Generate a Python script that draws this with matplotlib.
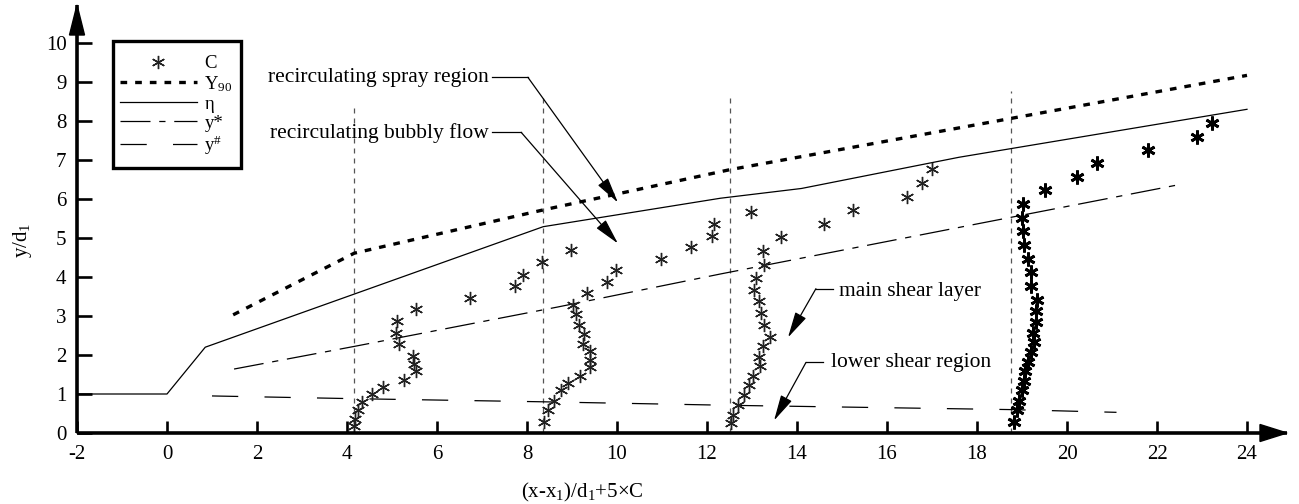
import matplotlib
matplotlib.use("Agg")
import matplotlib.pyplot as plt
from matplotlib.patches import Polygon, Rectangle

plt.rcParams['font.family'] = ['Liberation Serif', 'DejaVu Serif']
plt.rcParams['mathtext.fontset'] = 'custom'
plt.rcParams['mathtext.rm'] = 'Liberation Serif'
plt.rcParams['mathtext.it'] = 'Liberation Serif:italic'

# ---------------- data ----------------
eta_x = [-2, 0, 0.85, 8.36, 12.3, 14.1, 17.6, 24]
eta_y = [1, 1, 2.2, 5.29, 6.02, 6.27, 7.07, 8.3]

y90_x = [1.47, 4.16, 8.36, 12.5, 24]
y90_y = [3.03, 4.61, 5.72, 6.75, 9.17]

ystar_x = [1.49, 4.16, 8.68, 12.31, 17.64, 22.5]
ystar_y = [1.64, 2.22, 3.23, 4.08, 5.28, 6.37]

yhash_x = [1.0, 4.16, 8.36, 12.5, 18.76, 21.1]
yhash_y = [0.95, 0.88, 0.80, 0.71, 0.60, 0.53]

prof_x0 = [4.16, 8.36, 12.5, 18.75]
prof_top = [8.45, 8.6, 8.7, 8.78]

c1_x = [4.16, 4.18, 4.25, 4.33, 4.55, 4.81, 5.26, 5.53, 5.48, 5.46, 5.16, 5.09, 5.11,
        5.53, 6.74, 7.73, 7.90, 8.33, 8.98]
c1_y = [0.17, 0.36, 0.58, 0.79, 0.99, 1.17, 1.37, 1.58, 1.77, 1.98, 2.27, 2.57, 2.88,
        3.18, 3.47, 3.76, 4.06, 4.38, 4.68]

c2_x = [8.37, 8.46, 8.61, 8.76, 8.92, 9.18, 9.41, 9.39, 9.39, 9.24, 9.26, 9.16, 9.09,
        9.02, 9.33, 9.77, 9.98, 10.98, 11.64, 12.10, 12.15, 12.98]
c2_y = [0.29, 0.58, 0.83, 1.09, 1.29, 1.47, 1.69, 1.88, 2.09, 2.29, 2.54, 2.78, 3.04,
        3.29, 3.58, 3.87, 4.17, 4.47, 4.78, 5.06, 5.36, 5.66]

c3_x = [12.53, 12.57, 12.68, 12.82, 12.94, 13.02, 13.18, 13.16, 13.24, 13.39, 13.27,
        13.20, 13.16, 13.04, 13.09, 13.27, 13.24, 13.64, 14.59, 15.24, 16.44, 16.77, 17.00]
c3_y = [0.25, 0.47, 0.73, 0.98, 1.22, 1.47, 1.71, 1.96, 2.22, 2.47, 2.78, 3.07, 3.38,
        3.67, 3.98, 4.32, 4.66, 5.02, 5.36, 5.72, 6.06, 6.41, 6.76]

c4_x = [18.83, 18.88, 18.94, 18.99, 19.05, 19.07, 19.13, 19.19, 19.26, 19.24, 19.31,
        19.30, 19.33, 19.20, 19.19, 19.14, 19.04, 19.03, 18.99, 19.03, 19.51, 20.22,
        20.67, 21.79, 22.88, 23.22]
c4_y = [0.28, 0.58, 0.83, 1.09, 1.33, 1.58, 1.83, 2.07, 2.33, 2.57, 2.84, 3.12, 3.41,
        3.78, 4.12, 4.47, 4.83, 5.17, 5.52, 5.86, 6.22, 6.56, 6.92, 7.26, 7.60, 7.94]

x_ticks = list(range(-2, 25, 2))
y_ticks = list(range(0, 11))

legend_labels = ['C', r'Y$_{\mathrm{90}}$', 'η', 'y*', r'y$^{\#}$']

annotations = [
    # text, text anchor (left / right), text position, leader start, knee, arrow tip
    ('recirculating spray region', 'right', (7.15, 9.12), (7.22, 9.12), (8.02, 9.12), (10.02, 5.91)),
    ('recirculating bubbly flow', 'right', (7.15, 7.70), (7.22, 7.71), (7.87, 7.71), (10.02, 4.86)),
    ('main shear layer', 'left', (14.93, 3.62), (14.80, 3.70), (14.42, 3.70), (13.80, 2.45)),
    ('lower shear region', 'left', (14.76, 1.81), (14.58, 1.81), (14.20, 1.81), (13.49, 0.32)),
]

# ---------------- figure ----------------
W, H = 1299, 504
fig = plt.figure(figsize=(W / 100, H / 100), dpi=100)
ax_l, ax_r, ax_b, ax_t = 77, 1287, 433, 5
ax = fig.add_axes([ax_l / W, (H - ax_b) / H, (ax_r - ax_l) / W, (ax_b - ax_t) / H])
xmin, xmax = -2, -2 + (ax_r - ax_l) / 45.0
ymin, ymax = 0, (ax_b - ax_t) / 39.0
ax.set_xlim(xmin, xmax)
ax.set_ylim(ymin, ymax)

for s in ['top', 'right']:
    ax.spines[s].set_visible(False)
for s in ['left', 'bottom']:
    ax.spines[s].set_linewidth(2.6)
    ax.spines[s].set_capstyle('butt')

ax.set_xticks(x_ticks)
ax.set_yticks(y_ticks)
ax.set_xticklabels([str(v) for v in x_ticks])
ax.set_yticklabels([str(v) for v in y_ticks])
ax.tick_params(axis='x', direction='in', length=9, width=1.9, labelsize=15, pad=8.5)
ax.tick_params(axis='y', direction='in', length=11, width=1.9, labelsize=15, pad=7.5)

# axis arrow heads
ax.add_patch(Polygon([[xmax, 0], [xmax - 27 / 45, 8.5 / 39], [xmax - 27 / 45, -8.5 / 39]],
                     closed=True, color='black', clip_on=False, zorder=5))
ax.add_patch(Polygon([[xmin, ymax], [xmin - 7.5 / 45, ymax - 30 / 39], [xmin + 7.5 / 45, ymax - 30 / 39]],
                     closed=True, color='black', clip_on=False, zorder=5))

# vertical profile guide lines
for x0, top in zip(prof_x0, prof_top):
    ax.plot([x0, x0], [0, top], color='#555555', lw=0.9, dashes=(4, 4))

# lines
ax.plot(eta_x, eta_y, color='black', lw=0.9, label=legend_labels[2])
l90, = ax.plot(y90_x, y90_y, color='black', lw=2.4, label=legend_labels[1])
l90.set_dashes((2.0, 2.4))
ls, = ax.plot(ystar_x, ystar_y, color='black', lw=0.9, label=legend_labels[3])
ls.set_dashes((24, 7, 5, 7))
lh, = ax.plot(yhash_x, yhash_y, color='black', lw=0.9, label=legend_labels[4])
lh.set_dashes((21, 21))

# scatter profiles
star = (6, 2, 0)
ax.plot(c1_x, c1_y, ls='none', marker=star, ms=9.5, mew=1.0, color='#222222', label=legend_labels[0])
ax.plot(c2_x, c2_y, ls='none', marker=star, ms=9.5, mew=1.0, color='#222222')
ax.plot(c3_x, c3_y, ls='none', marker=star, ms=9.5, mew=1.0, color='#222222')
ax.plot(c4_x, c4_y, ls='none', marker=star, ms=10, mew=2.0, color='black')

# annotations
for text, ha, tpos, start, knee, tip in annotations:
    ax.text(tpos[0], tpos[1], text, ha=ha, va='center', fontsize=15.5)
    ax.plot([start[0], knee[0]], [start[1], knee[1]], color='black', lw=0.9)
    ax.annotate('', xy=tip, xytext=knee,
                arrowprops=dict(arrowstyle='-|>,head_length=1.6,head_width=0.38',
                                color='black', lw=0.9, shrinkA=0, shrinkB=0))

# legend (frame drawn separately)
handles, labels = ax.get_legend_handles_labels()
order = [labels.index(l) for l in legend_labels]
leg = ax.legend([handles[i] for i in order], [labels[i] for i in order],
                loc='upper left', bbox_to_anchor=(120 / W, 1 - 55 / H),
                bbox_transform=fig.transFigure,
                frameon=False, fontsize=13.5, handlelength=4.1,
                handletextpad=0.4, labelspacing=0.1, borderpad=0, borderaxespad=0,
                markerscale=1.0)
fig.patches.append(Rectangle((113 / W, 1 - 168 / H), 128 / W, 127 / H, transform=fig.transFigure,
                             fill=False, edgecolor='black', linewidth=2.4, zorder=6))

ax.set_xlabel(r'(x-x$_{\mathrm{1}}$)/d$_{\mathrm{1}}$+5×C', fontsize=15)
ax.set_ylabel(r'y/d$_{\mathrm{1}}$', fontsize=15)
ax.xaxis.set_label_coords((582 - ax_l) / (ax_r - ax_l), -(481 - ax_b) / (ax_b - ax_t))
ax.yaxis.set_label_coords(-(77 - 34) / (ax_r - ax_l), (ax_b - 240) / (ax_b - ax_t))

fig.savefig('out.png', dpi=100)
